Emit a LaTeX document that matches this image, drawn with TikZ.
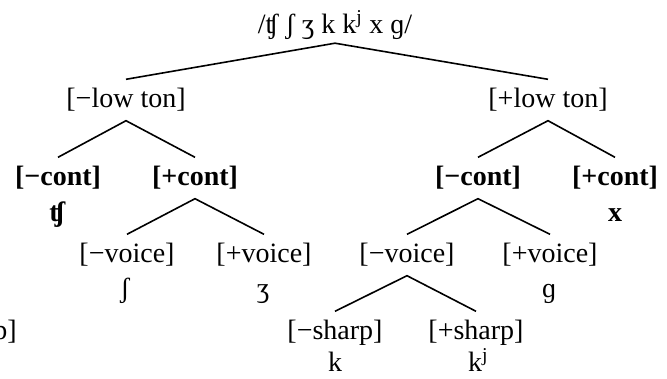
\documentclass[tikz,border=0pt]{standalone}
\usepackage{fontspec}
\setmainfont{Liberation Serif}
\begin{document}
\begin{tikzpicture}[x=1pt,y=-1pt,
  lab/.style={font=\fontsize{28}{34}\selectfont, text height=19pt, text depth=5pt, inner xsep=0pt, inner ysep=8.5pt},
  blab/.style={lab, font=\fontsize{28}{34}\selectfont\bfseries},
  leaf/.style={font=\fontsize{28}{34}\selectfont, anchor=base, inner sep=0pt},
  bleaf/.style={leaf, font=\fontsize{28}{34}\selectfont\bfseries},
  branch/.style={line width=1.6pt}]
\useasboundingbox (0,0) rectangle (667,378);
\clip (0,0) rectangle (667,378);
% root
\node[lab, inner ysep=5pt] (root) at (335,26) {/ʧ ʃ ʒ k k\textsuperscript{j} x ɡ/};
% level 1
\node[lab] (lt1) at (126,100) {[−low ton]};
\node[lab] (lt2) at (548,100) {[+low ton]};
% level 2
\node[blab] (c1) at (58,178) {[−cont]};
\node[blab] (c2) at (195,178) {[+cont]};
\node[blab] (c3) at (478,178) {[−cont]};
\node[blab] (c4) at (615,178) {[+cont]};
\node[bleaf] (tsh) at (57,221) {ʧ};
\node[bleaf] (xx) at (615,221) {x};
% level 3
\node[lab] (v1) at (127,255) {[−voice]};
\node[lab] (v2) at (264,255) {[+voice]};
\node[lab] (v3) at (407,255) {[−voice]};
\node[lab] (v4) at (550,255) {[+voice]};
\node[leaf] (sh) at (125,297) {ʃ};
\node[leaf] (zh) at (263,297) {ʒ};
\node[leaf] (gg) at (549,297) {ɡ};
% level 4
\node[lab] (s1) at (335,332) {[−sharp]};
\node[lab] (s2) at (476,332) {[+sharp]};
\node[leaf] (kk) at (335,371) {k};
\node[leaf] (kj) at (478,371) {k\textsuperscript{j}};
% stray clipped label at the left edge
\node[lab, anchor=east] (s0) at (17,332) {[+sharp]};
% branches
\draw[branch] (lt1.north) -- (root.south) -- (lt2.north);
\draw[branch] (c1.north) -- (lt1.south) -- (c2.north);
\draw[branch] (c3.north) -- (lt2.south) -- (c4.north);
\draw[branch] (v1.north) -- (c2.south) -- (v2.north);
\draw[branch] (v3.north) -- (c3.south) -- (v4.north);
\draw[branch] (s1.north) -- (v3.south) -- (s2.north);
\end{tikzpicture}
\end{document}
